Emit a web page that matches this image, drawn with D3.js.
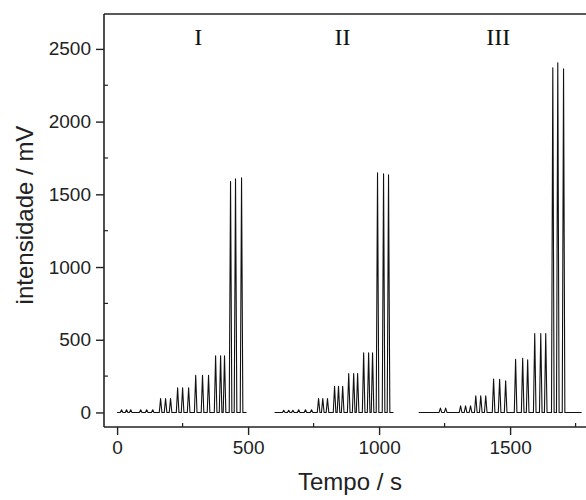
<!DOCTYPE html>
<meta charset="utf-8">
<script src="https://d3js.org/d3.v7.min.js"></script>
<style>
  body { margin: 0; background: #fff; }
  svg { display: block; }
</style>
<div id="chart"></div>
<script>
  // peak centres (s) and heights (mV), per run
  var peakTimes = [
    17, 36, 52, 90, 113, 136, 166, 185, 204, 231, 250, 273, 300, 326, 349, 376, 395, 410, 433, 452, 475,
    636, 655, 671, 693, 719, 742, 769, 785, 803, 830, 845, 861, 884, 903, 918, 941, 960, 975, 994, 1017, 1036,
    1234, 1254, 1311, 1330, 1349, 1369, 1388, 1407, 1437, 1460, 1483, 1521, 1548, 1567, 1594, 1617, 1636, 1663, 1682, 1704
  ];
  var peakHeights = [
    18, 18, 18, 18, 18, 18, 95, 95, 95, 170, 170, 170, 255, 255, 255, 390, 390, 390, 1587, 1607, 1614,
    15, 15, 15, 18, 18, 18, 95, 95, 95, 180, 180, 180, 268, 268, 268, 410, 410, 410, 1648, 1641, 1634,
    30, 30, 45, 45, 45, 115, 115, 115, 230, 228, 218, 365, 372, 362, 543, 543, 543, 2370, 2404, 2363
  ];
  // baseline start / end of each run (s)
  var runStart = [0, 601, 1151];
  var runEnd = [494, 1055, 1773];
  var runLabels = ["I", "II", "III"];
  var runLabelX = [310, 860, 1455];

  var xTicks = [0, 500, 1000, 1500];
  var xMinor = [250, 750, 1250, 1750];
  var yTicks = [0, 500, 1000, 1500, 2000, 2500];
  var yMinor = [250, 750, 1250, 1750, 2250];

  var W = 586, H = 500;
  var plotLeft = 104, plotTop = 14, plotBottom = 427;

  var svg = d3.select("#chart").append("svg")
    .attr("width", W).attr("height", H);
  svg.append("rect").attr("width", W).attr("height", H).attr("fill", "#fff");

  var x = d3.scaleLinear().domain([-50, 1800]).range([plotLeft, plotLeft + 1850 * 0.262]);
  var y = d3.scaleLinear().domain([-100, 2740]).range([plotBottom, plotTop]);

  // build one trace per run: flat baseline with narrow peaks
  var halfW = 5;
  var runs = runStart.map(function (s, i) {
    var pts = [[s, 0]];
    peakTimes.forEach(function (t, j) {
      if (t > s && t < runEnd[i]) {
        pts.push([t - halfW, 0], [t, peakHeights[j]], [t + halfW, 0]);
      }
    });
    pts.push([runEnd[i], 0]);
    return pts;
  });

  var line = d3.line()
    .x(function (d) { return x(d[0]); })
    .y(function (d) { return y(d[1]); });

  svg.append("g").selectAll("path")
    .data(runs)
    .enter().append("path")
    .attr("d", line)
    .attr("fill", "none")
    .attr("stroke", "#111")
    .attr("stroke-width", 1.1)
    .attr("stroke-linejoin", "round");

  // axes
  var font = "'Liberation Sans', Arial, sans-serif";
  var gx = svg.append("g").attr("transform", "translate(0," + plotBottom + ")")
    .call(d3.axisBottom(x).tickValues(xTicks).tickFormat(d3.format("d"))
      .tickSize(8).tickSizeOuter(0).tickPadding(6));
  var gy = svg.append("g").attr("transform", "translate(" + plotLeft + ",0)")
    .call(d3.axisLeft(y).tickValues(yTicks).tickFormat(d3.format("d"))
      .tickSize(8).tickSizeOuter(0).tickPadding(5));

  [gx, gy].forEach(function (g) {
    g.select(".domain").attr("stroke", "#222").attr("stroke-width", 1.6);
    g.selectAll(".tick line").attr("stroke", "#222").attr("stroke-width", 1.4);
    g.selectAll(".tick text").attr("fill", "#222")
      .style("font-family", font).style("font-size", "19px");
  });
  gx.select(".domain").attr("d", "M" + plotLeft + ",0H" + W);
  gy.select(".domain").attr("d", "M0," + plotTop + "V" + plotBottom);

  // minor ticks pointing inside
  svg.append("g").selectAll("line").data(xMinor).enter().append("line")
    .attr("x1", function (d) { return x(d); }).attr("x2", function (d) { return x(d); })
    .attr("y1", plotBottom).attr("y2", plotBottom - 4)
    .attr("stroke", "#222").attr("stroke-width", 1.2);
  svg.append("g").selectAll("line").data(yMinor).enter().append("line")
    .attr("x1", plotLeft).attr("x2", plotLeft + 4)
    .attr("y1", function (d) { return y(d); }).attr("y2", function (d) { return y(d); })
    .attr("stroke", "#222").attr("stroke-width", 1.2);

  // top frame line
  svg.append("line")
    .attr("x1", plotLeft).attr("x2", W).attr("y1", plotTop).attr("y2", plotTop)
    .attr("stroke", "#222").attr("stroke-width", 1.6);

  // run labels
  svg.append("g").selectAll("text").data(runLabels).enter().append("text")
    .attr("x", function (d, i) { return x(runLabelX[i]); })
    .attr("y", 45)
    .attr("text-anchor", "middle")
    .style("font-family", "'Liberation Serif', 'Times New Roman', serif")
    .style("font-size", "24px")
    .attr("fill", "#111")
    .text(function (d) { return d; });

  // axis titles
  svg.append("text")
    .attr("x", 350).attr("y", 490)
    .attr("text-anchor", "middle")
    .style("font-family", font).style("font-size", "24px")
    .attr("fill", "#222")
    .text("Tempo / s");
  svg.append("text")
    .attr("transform", "translate(33,215) rotate(-90)")
    .attr("text-anchor", "middle")
    .style("font-family", font).style("font-size", "24px")
    .attr("fill", "#222")
    .text("intensidade / mV");
</script>
